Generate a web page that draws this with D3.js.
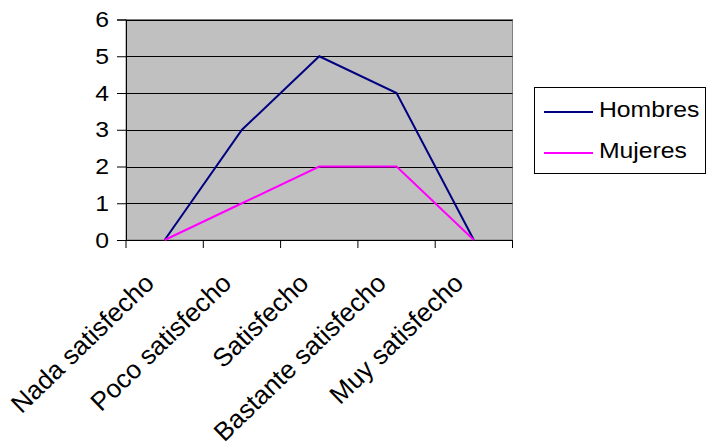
<!DOCTYPE html>
<html><head><meta charset="utf-8">
<script src="https://cdn.jsdelivr.net/npm/d3@7"></script>
<style>body{margin:0;background:#fff}svg{display:block}text{font-family:"Liberation Sans",Arial,sans-serif}</style>
</head><body>
<svg id="c" width="707" height="448"></svg>
<script>
const categories = ["Nada satisfecho","Poco satisfecho","Satisfecho","Bastante satisfecho","Muy satisfecho"];
const hombres = [0,3,5,4,0];
const mujeres = [0,1,2,2,0];
const yTicks = [0,1,2,3,4,5,6];
const seriesNames = ["Hombres","Mujeres"];
const seriesColors = ["#000080","#FF00FF"];

const SX = 1.1, FS = 22.5;
const svg = d3.select("#c");
const L=126, R=512.5, T=19.5, B=240;
const x = d3.scaleBand().domain(categories).range([L,R]);
const y = d3.scaleLinear().domain([0,6]).range([B,T]);

svg.append("rect").attr("x",L).attr("y",T).attr("width",R-L).attr("height",B-T)
  .attr("fill","#C0C0C0").attr("stroke","#808080").attr("stroke-width",1);

svg.append("g").selectAll("line").data(yTicks.filter(d=>d>0)).join("line")
  .attr("x1",L).attr("x2",R).attr("y1",d=>Math.round(y(d))+0.5).attr("y2",d=>Math.round(y(d))+0.5)
  .attr("stroke","#000").attr("stroke-width",1);

const yAxis = svg.append("g").attr("transform",`translate(${L},0)`)
  .call(d3.axisLeft(y).tickValues(yTicks).tickSize(9).tickPadding(8).tickFormat(d3.format("d")));
yAxis.select(".domain").attr("stroke","#000");
yAxis.selectAll("line").attr("stroke","#000");
yAxis.selectAll("text").attr("font-size",FS).attr("fill","#000")
  .attr("font-family","Liberation Sans, Arial, sans-serif")
  .attr("x",0).attr("transform",`translate(-17,0) scale(${SX},1)`);

const xAxis = svg.append("g").attr("transform",`translate(0,${B})`)
  .call(d3.axisBottom(x).tickSize(0).tickFormat(""));
xAxis.select(".domain").attr("stroke","#000");
const bounds = [L, ...categories.map(c=>x(c)+x.bandwidth())];
svg.append("g").selectAll("line").data(bounds).join("line")
  .attr("x1",d=>d).attr("x2",d=>d).attr("y1",B).attr("y2",B+8).attr("stroke","#000");

svg.append("g").selectAll("text").data(categories).join("text")
  .attr("transform",d=>`translate(${x(d)+x.bandwidth()/2-9},${B+45}) rotate(-44)`)
  .attr("text-anchor","end").attr("font-size",26).attr("fill","#000").text(d=>d);

const line = d3.line().x((d,i)=>x(categories[i])+x.bandwidth()/2).y(d=>y(d));
[hombres,mujeres].forEach((s,i)=>{
  svg.append("path").datum(s).attr("d",line).attr("fill","none")
    .attr("stroke",seriesColors[i]).attr("stroke-width",2);
});

const lg = svg.append("g");
lg.append("rect").attr("x",534.5).attr("y",87.5).attr("width",171).attr("height",86)
  .attr("fill","#fff").attr("stroke","#000");
seriesNames.forEach((n,i)=>{
  const yy = 112 + i*41;
  lg.append("line").attr("x1",544).attr("x2",593).attr("y1",yy).attr("y2",yy)
    .attr("stroke",seriesColors[i]).attr("stroke-width",2);
  lg.append("text").attr("transform",`translate(599,${yy+5}) scale(${SX},1)`)
    .attr("font-size",FS).attr("fill","#000").text(n);
});
</script>
</body></html>
